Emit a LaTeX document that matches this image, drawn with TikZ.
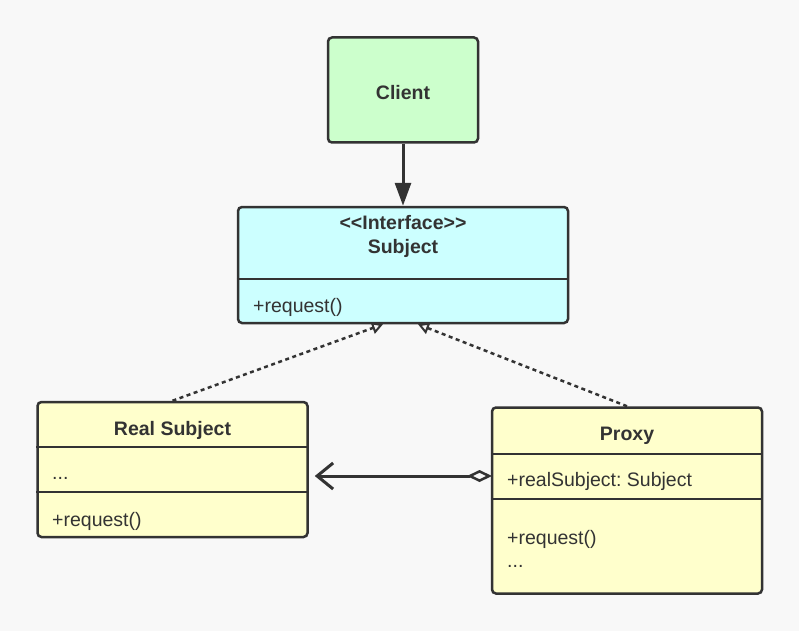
\documentclass[tikz,border=0pt]{standalone}
\usepackage{fontspec}
\setmainfont{Liberation Sans}
\usetikzlibrary{arrows.meta,calc}
\frenchspacing

\definecolor{bgcol}{HTML}{F8F8F8}
\definecolor{linecol}{HTML}{333333}
\definecolor{clientfill}{HTML}{CCFFCC}
\definecolor{subjectfill}{HTML}{CCFFFF}
\definecolor{classfill}{HTML}{FFFFCC}

\begin{document}
\begin{tikzpicture}[
                x=1pt, y=-1pt,
                classbox/.style={draw=linecol, line width=2.5pt, rounded corners=4pt, inner sep=0pt},
                title/.style={font=\fontsize{19.5}{24}\selectfont\bfseries, text=linecol, align=center},
                member/.style={font=\fontsize{19.5}{24}\selectfont, text=linecol, anchor=west, inner sep=0pt},
                divider/.style={draw=linecol, line width=2.5pt},
                uses/.style={draw=linecol, line width=3pt, -{Triangle[length=23pt, width=16pt]}},
                realizes/.style={draw=linecol, line width=2.5pt, dash pattern=on 4pt off 3.5pt,
                    -{Triangle[open, length=11pt, width=12pt, line width=2pt]}},
                aggregates/.style={draw=linecol, line width=3pt,
                    {Diamond[open, length=25pt, width=12pt, line width=2.5pt]}-{Straight Barb[length=16pt, width=26pt, line width=3pt]}}
            ]

                % Background and page size
                \fill[bgcol] (0,0) rectangle (799,631);

                % Client
                \node[classbox, fill=clientfill, minimum width=150pt, minimum height=105pt] (client) at (403,90) {};
                \node[title] (clientname) at (403,93) {Client};

                % The interface Subject
                \node[classbox, fill=subjectfill, minimum width=330pt, minimum height=116pt] (subject) at (403,265) {};
                \node[title] (subjectname) at (403,236) {<{}<Interface>{}>\\Subject};
                \draw[divider] (subject.west |- 0,279) -- (subject.east |- 0,279);
                \node[member] (subjectop) at (253,307) {+request()};

                % Real Subject
                \node[classbox, fill=classfill, minimum width=270pt, minimum height=135pt] (realsubject) at (172.5,469.5) {};
                \node[title] (realname) at (172.5,430) {Real Subject};
                \draw[divider] (realsubject.west |- 0,447) -- (realsubject.east |- 0,447);
                \draw[divider] (realsubject.west |- 0,492) -- (realsubject.east |- 0,492);
                \node[member] (realattr) at (52,478) {...};
                \node[member] (realop) at (52,521) {+request()};

                % Proxy
                \node[classbox, fill=classfill, minimum width=270pt, minimum height=186pt] (proxy) at (627,500.5) {};
                \node[title] (proxyname) at (627,436) {Proxy};
                \draw[divider] (proxy.west |- 0,454) -- (proxy.east |- 0,454);
                \draw[divider] (proxy.west |- 0,499) -- (proxy.east |- 0,499);
                \node[member] (proxyattr) at (507,481) {+realSubject: Subject};
                \node[member] (proxyop) at (507,539) {+request()};
                \node[member] (proxymore) at (507,566) {...};

                % Connectors
                \draw[uses] (client) -- (subject);
                \draw[realizes] (realsubject.north) -- ($(subject.south)+(-20,0)$);
                \draw[realizes] (proxy.north) -- ($(subject.south)+(15,0)$);

                \coordinate (agg) at (492,476);
                \draw[aggregates, shorten >=6pt] (agg) -- (agg -| realsubject.east);

            \end{tikzpicture}
\end{document}
